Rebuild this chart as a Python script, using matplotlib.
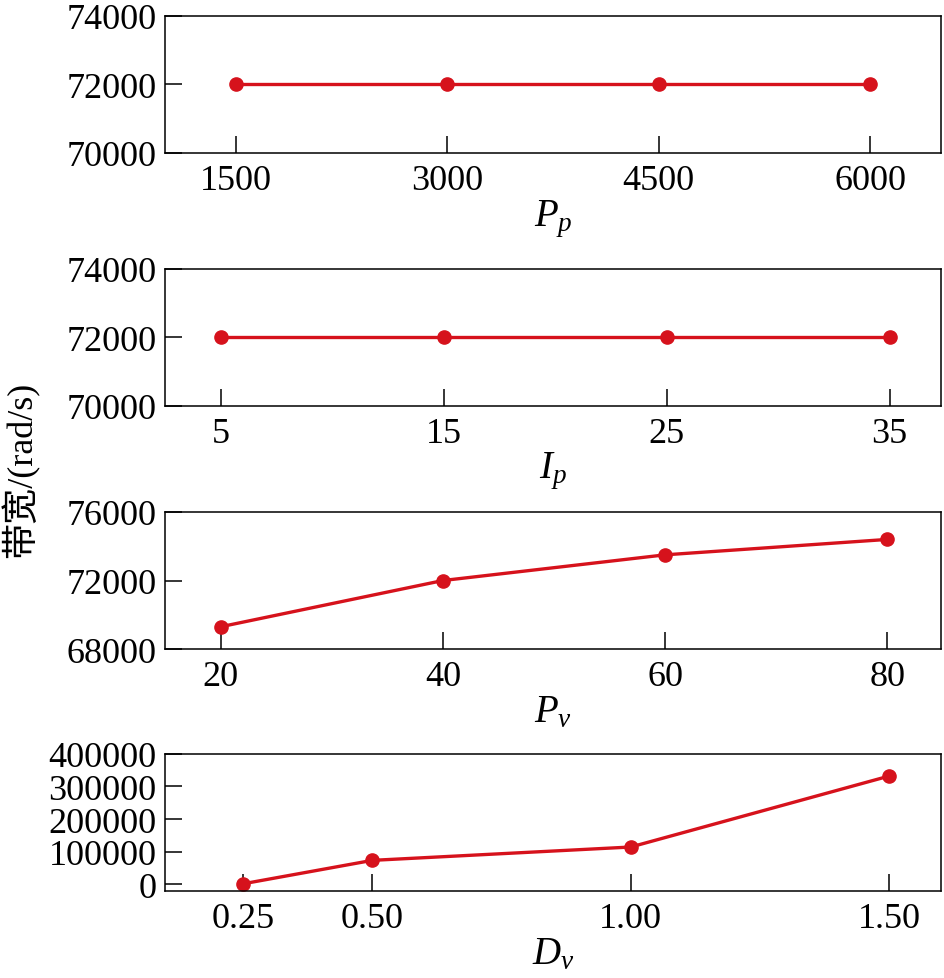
import matplotlib
matplotlib.use("Agg")
import matplotlib.pyplot as plt

plt.rcParams['font.family'] = ['Liberation Serif', 'Noto Sans CJK SC']
plt.rcParams['mathtext.fontset'] = 'custom'
plt.rcParams['mathtext.rm'] = 'Liberation Serif'
plt.rcParams['mathtext.it'] = 'Liberation Serif:italic'
plt.rcParams['font.size'] = 26

# data
pp = [1500, 3000, 4500, 6000]
bw_pp = [72000, 72000, 72000, 72000]

ip = [5, 15, 25, 35]
bw_ip = [72000, 72000, 72000, 72000]

pv = [20, 40, 60, 80]
bw_pv = [69300, 72000, 73500, 74400]

dv = [0.25, 0.50, 1.00, 1.50]
bw_dv = [1000, 73000, 114000, 332000]
dv_labels = ["0.25", "0.50", "1.00", "1.50"]

red = '#d6121c'

fig = plt.figure(figsize=(9.45, 9.79), dpi=100)

left, width, height = 0.1746, 0.821, 0.140
bottoms = [0.8427, 0.5843, 0.336, 0.0889]

panels = [
    (pp, bw_pp, '$P_p$', (1000, 6500), (70000, 74000), [70000, 72000, 74000], pp, None),
    (ip, bw_ip, '$I_p$', (2.5, 37.3), (70000, 74000), [70000, 72000, 74000], ip, None),
    (pv, bw_pv, '$P_v$', (15, 84.8), (68000, 76000), [68000, 72000, 76000], pv, None),
    (dv, bw_dv, '$D_v$', (0.099, 1.6), (-21000, 400000),
     [0, 100000, 200000, 300000, 400000], dv, dv_labels),
]

for b, (x, y, xl, xlim, ylim, yt, xt, xtl) in zip(bottoms, panels):
    ax = fig.add_axes([left, b, width, height])
    ax.plot(x, y, color=red, lw=2.4, marker='o', ms=9.5)
    ax.set_xlim(*xlim)
    ax.set_ylim(*ylim)
    ax.set_yticks(yt)
    ax.set_xticks(xt)
    if xtl is not None:
        ax.set_xticklabels(xtl)
    ax.tick_params(direction='in', length=12, width=1.1, labelsize=26)
    ax.tick_params(axis='x', pad=8)
    ax.tick_params(axis='y', pad=6)
    for s in ax.spines.values():
        s.set_linewidth(1.1)
    ax.set_xlabel(xl, fontsize=28, labelpad=0)

fig.text(0.021, 0.52, '带宽/(rad/s)', rotation=90, ha='center', va='center', fontsize=26)

fig.savefig('out.png', dpi=100)
